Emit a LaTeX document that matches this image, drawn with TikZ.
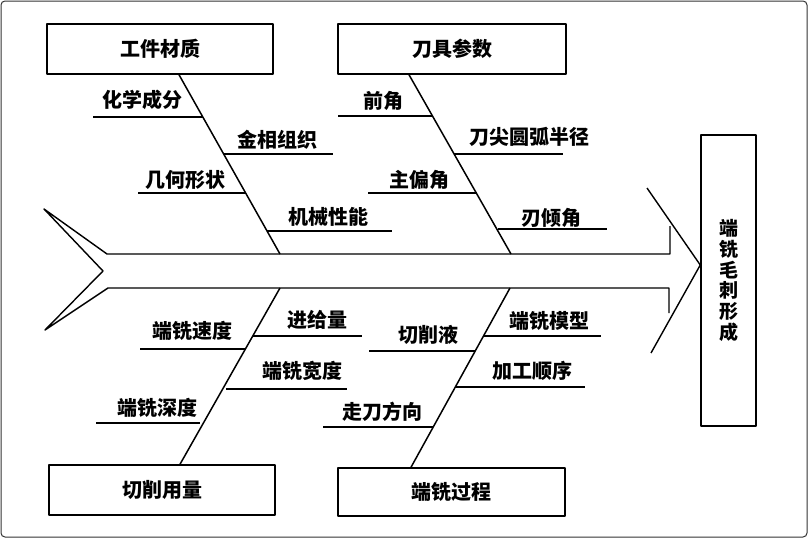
\documentclass[tikz,border=0pt]{standalone}
\usepackage{fontspec}
\newfontfamily\cjk{Noto Sans CJK SC}
\begin{document}
\begin{tikzpicture}[x=1pt,y=-1pt,
  line width=1.4pt, line join=round,
  every node/.style={font=\cjk\bfseries\fontsize{20}{21}\selectfont, inner sep=0pt},
  catbox/.style={draw, line width=1.5pt, minimum width=#1, minimum height=50pt},
  lbl/.style={},
  uline/.style={line width=1.3pt},
  branch/.style={line width=1.5pt}]
\useasboundingbox (0,0) rectangle (808,538);
\draw[line width=1pt, rounded corners=4pt, black!80] (1,1) rectangle (807,537);
% category boxes
\node[catbox=226pt] (b1) at (160,49) {工件材质};
\node[catbox=228pt] (b2) at (452,49) {刀具参数};
\node[catbox=226pt] (b3) at (162,490) {切削用量};
\node[catbox=227pt, minimum height=48pt] (b4) at (451.5,492) {端铣过程};
\node[draw, line width=1.5pt, minimum width=55pt, minimum height=291pt, align=center,
      font=\cjk\bfseries\fontsize{19}{20.8}\selectfont] (res) at (728.5,280.5) {端\\铣\\毛\\刺\\形\\成};
% spine points
\coordinate (s1) at (280,254);
\coordinate (s2) at (511,254);
\coordinate (s3) at (280,288);
\coordinate (s4) at (510,288);
% spine and tail
\draw (670,226) -- (670,254) -- (107,254) -- (44,209) -- (103,271) -- (45,330) -- (108,288) -- (669,288) -- (669,313);
% arrow head
\coordinate (apex) at ([yshift=15.5pt]res.west);
\draw (647,188) -- (apex) -- (651,353);
% branches
\draw[branch] ([xshift=19pt]b1.south) -- (s1);
\draw[branch] ([xshift=-43pt]b2.south) -- (s2);
\draw[branch] ([xshift=18pt]b3.north) -- (s3);
\draw[branch] ([xshift=-40.5pt]b4.north) -- (s4);
% top-left labels
\node[lbl] (l1) at (142,100) {化学成分};   \draw[uline] (93,117) -- (203,117);
\node[lbl] (l2) at (277,140) {金相组织};   \draw[uline] (224,154) -- (333,154);
\node[lbl] (l3) at (185,180) {几何形状};   \draw[uline] (138,193) -- (246,193);
\node[lbl] (l4) at (328,217) {机械性能};   \draw[uline] (267,231) -- (392,231);
% top-right labels
\node[lbl] (l5) at (383,101) {前角};       \draw[uline] (338,116) -- (432,116);
\node[lbl] (l6) at (529,137) {刀尖圆弧半径}; \draw[uline] (454,154) -- (563,154);
\node[lbl] (l7) at (419,180) {主偏角};     \draw[uline] (368,193) -- (477,193);
\node[lbl] (l8) at (551,218) {刃倾角};     \draw[uline] (498,229) -- (607,229);
% bottom-left labels
\node[lbl] (l9)  at (317,320) {进给量};    \draw[uline] (253,336) -- (362,336);
\node[lbl] (l10) at (192,331) {端铣速度};  \draw[uline] (140,349) -- (245,349);
\node[lbl] (l11) at (302,371) {端铣宽度};  \draw[uline] (226,389) -- (347,389);
\node[lbl] (l12) at (157,408) {端铣深度};  \draw[uline] (96,423) -- (200,423);
% bottom-right labels
\node[lbl] (l13) at (549,321) {端铣模型};  \draw[uline] (484,336) -- (601,336);
\node[lbl] (l14) at (428,335) {切削液};    \draw[uline] (369,351) -- (475,351);
\node[lbl] (l15) at (532,371) {加工顺序};  \draw[uline] (456,387) -- (585,387);
\node[lbl] (l16) at (382,412) {走刀方向};  \draw[uline] (323,427) -- (433,427);
\end{tikzpicture}
\end{document}
